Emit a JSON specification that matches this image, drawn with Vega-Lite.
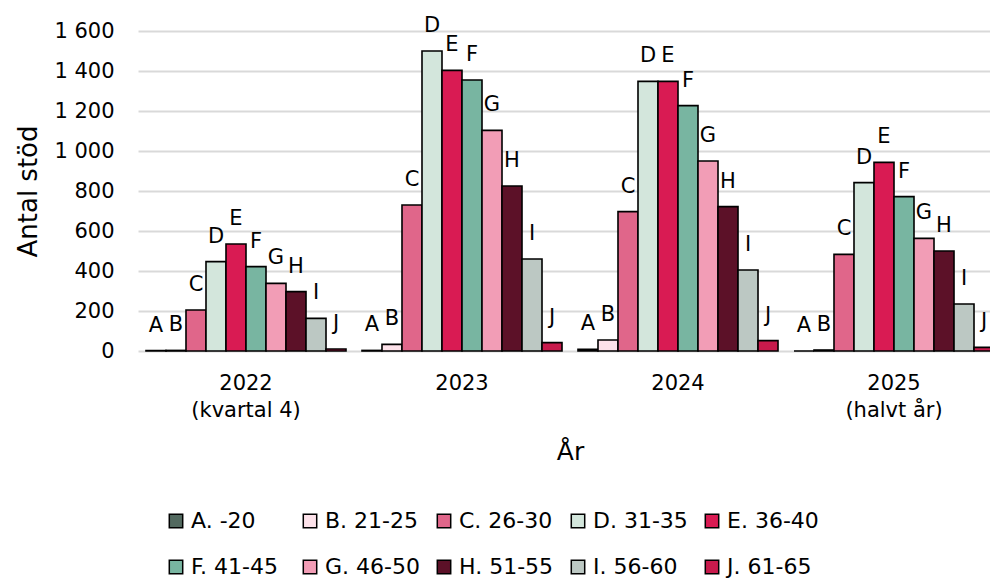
{
  "$schema": "https://vega.github.io/schema/vega-lite/v6.json",
  "autosize": {"type": "none"},
  "padding": {"left": 138, "top": 31, "right": 0, "bottom": 231},
  "width": 852,
  "height": 320,
  "background": "white",
  "data": {
    "values": [
      {"ar": "2022", "grupp": "A. -20", "bokstav": "A", "antal": 2},
      {"ar": "2022", "grupp": "B. 21-25", "bokstav": "B", "antal": 3},
      {"ar": "2022", "grupp": "C. 26-30", "bokstav": "C", "antal": 205},
      {"ar": "2022", "grupp": "D. 31-35", "bokstav": "D", "antal": 447},
      {"ar": "2022", "grupp": "E. 36-40", "bokstav": "E", "antal": 535},
      {"ar": "2022", "grupp": "F. 41-45", "bokstav": "F", "antal": 422},
      {"ar": "2022", "grupp": "G. 46-50", "bokstav": "G", "antal": 338},
      {"ar": "2022", "grupp": "H. 51-55", "bokstav": "H", "antal": 297},
      {"ar": "2022", "grupp": "I. 56-60", "bokstav": "I", "antal": 163},
      {"ar": "2022", "grupp": "J. 61-65", "bokstav": "J", "antal": 10},
      {"ar": "2023", "grupp": "A. -20", "bokstav": "A", "antal": 3},
      {"ar": "2023", "grupp": "B. 21-25", "bokstav": "B", "antal": 33},
      {"ar": "2023", "grupp": "C. 26-30", "bokstav": "C", "antal": 730},
      {"ar": "2023", "grupp": "D. 31-35", "bokstav": "D", "antal": 1500},
      {"ar": "2023", "grupp": "E. 36-40", "bokstav": "E", "antal": 1403},
      {"ar": "2023", "grupp": "F. 41-45", "bokstav": "F", "antal": 1355},
      {"ar": "2023", "grupp": "G. 46-50", "bokstav": "G", "antal": 1103},
      {"ar": "2023", "grupp": "H. 51-55", "bokstav": "H", "antal": 825},
      {"ar": "2023", "grupp": "I. 56-60", "bokstav": "I", "antal": 460},
      {"ar": "2023", "grupp": "J. 61-65", "bokstav": "J", "antal": 42},
      {"ar": "2024", "grupp": "A. -20", "bokstav": "A", "antal": 8},
      {"ar": "2024", "grupp": "B. 21-25", "bokstav": "B", "antal": 55},
      {"ar": "2024", "grupp": "C. 26-30", "bokstav": "C", "antal": 697},
      {"ar": "2024", "grupp": "D. 31-35", "bokstav": "D", "antal": 1348},
      {"ar": "2024", "grupp": "E. 36-40", "bokstav": "E", "antal": 1348},
      {"ar": "2024", "grupp": "F. 41-45", "bokstav": "F", "antal": 1227},
      {"ar": "2024", "grupp": "G. 46-50", "bokstav": "G", "antal": 950},
      {"ar": "2024", "grupp": "H. 51-55", "bokstav": "H", "antal": 722},
      {"ar": "2024", "grupp": "I. 56-60", "bokstav": "I", "antal": 405},
      {"ar": "2024", "grupp": "J. 61-65", "bokstav": "J", "antal": 52},
      {"ar": "2025", "grupp": "A. -20", "bokstav": "A", "antal": 0},
      {"ar": "2025", "grupp": "B. 21-25", "bokstav": "B", "antal": 5},
      {"ar": "2025", "grupp": "C. 26-30", "bokstav": "C", "antal": 483},
      {"ar": "2025", "grupp": "D. 31-35", "bokstav": "D", "antal": 842},
      {"ar": "2025", "grupp": "E. 36-40", "bokstav": "E", "antal": 943},
      {"ar": "2025", "grupp": "F. 41-45", "bokstav": "F", "antal": 772},
      {"ar": "2025", "grupp": "G. 46-50", "bokstav": "G", "antal": 563},
      {"ar": "2025", "grupp": "H. 51-55", "bokstav": "H", "antal": 500},
      {"ar": "2025", "grupp": "I. 56-60", "bokstav": "I", "antal": 235},
      {"ar": "2025", "grupp": "J. 61-65", "bokstav": "J", "antal": 18}
    ]
  },
  "encoding": {
    "x": {
      "field": "ar",
      "type": "nominal",
      "scale": {"range": [0, 864], "paddingInner": 0.074, "paddingOuter": 0.037},
      "axis": {
        "title": "År",
        "titleFontSize": 25,
        "titleFontWeight": "normal",
        "titlePadding": 19,
        "labelAngle": 0,
        "labelFontSize": 21,
        "labelPadding": 21,
        "labelLineHeight": 27,
        "labelExpr": "datum.value == '2022' ? ['2022', '(kvartal 4)'] : datum.value == '2025' ? ['2025', '(halvt år)'] : datum.value",
        "ticks": false,
        "domain": false,
        "grid": false
      }
    },
    "xOffset": {"field": "grupp", "type": "nominal", "scale": {"paddingInner": 0, "paddingOuter": 0}},
    "y": {
      "field": "antal",
      "type": "quantitative",
      "stack": null,
      "scale": {"domain": [0, 1600], "nice": false},
      "axis": {
        "title": "Antal stöd",
        "titleFontSize": 26,
        "titleFontWeight": "normal",
        "titlePadding": 12,
        "values": [0, 200, 400, 600, 800, 1000, 1200, 1400, 1600],
        "labelExpr": "replace(format(datum.value, ','), ',', ' ')",
        "labelFontSize": 21,
        "labelPadding": 24,
        "ticks": false,
        "domain": false,
        "grid": true,
        "gridColor": "#d9d9d9",
        "gridWidth": 2
      }
    }
  },
  "layer": [
    {
      "mark": {"type": "bar", "stroke": "#000000", "strokeWidth": 1.6},
      "encoding": {
        "color": {
          "field": "grupp",
          "type": "nominal",
          "scale": {
            "domain": ["A. -20", "B. 21-25", "C. 26-30", "D. 31-35", "E. 36-40", "F. 41-45", "G. 46-50", "H. 51-55", "I. 56-60", "J. 61-65"],
            "range": ["#52695f", "#fde2ea", "#e0668a", "#d3e6dc", "#d91b53", "#78b5a1", "#f29db6", "#5c1128", "#bcc8c3", "#c81a4c"]
          },
          "legend": {
            "title": null,
            "orient": "none",
            "legendX": 27,
            "legendY": 479,
            "direction": "horizontal",
            "columns": 5,
            "gridAlign": "all",
            "columnPadding": 13,
            "rowPadding": 24,
            "symbolType": "square",
            "symbolSize": 180,
            "symbolStrokeColor": "#000000",
            "symbolStrokeWidth": 1.5,
            "labelFontSize": 22,
            "labelOffset": 4,
            "labelColor": "#000000"
          }
        }
      }
    },
    {
      "mark": {"type": "text", "baseline": "alphabetic", "dy": -19, "fontSize": 21, "color": "#000000"},
      "encoding": {
        "text": {"field": "bokstav", "type": "nominal"}
      }
    }
  ],
  "config": {
    "font": "DejaVu Sans",
    "view": {"stroke": null},
    "text": {"font": "DejaVu Sans"},
    "axis": {"labelColor": "#000000", "titleColor": "#000000", "labelFont": "DejaVu Sans", "titleFont": "DejaVu Sans"},
    "legend": {"labelFont": "DejaVu Sans"}
  }
}
